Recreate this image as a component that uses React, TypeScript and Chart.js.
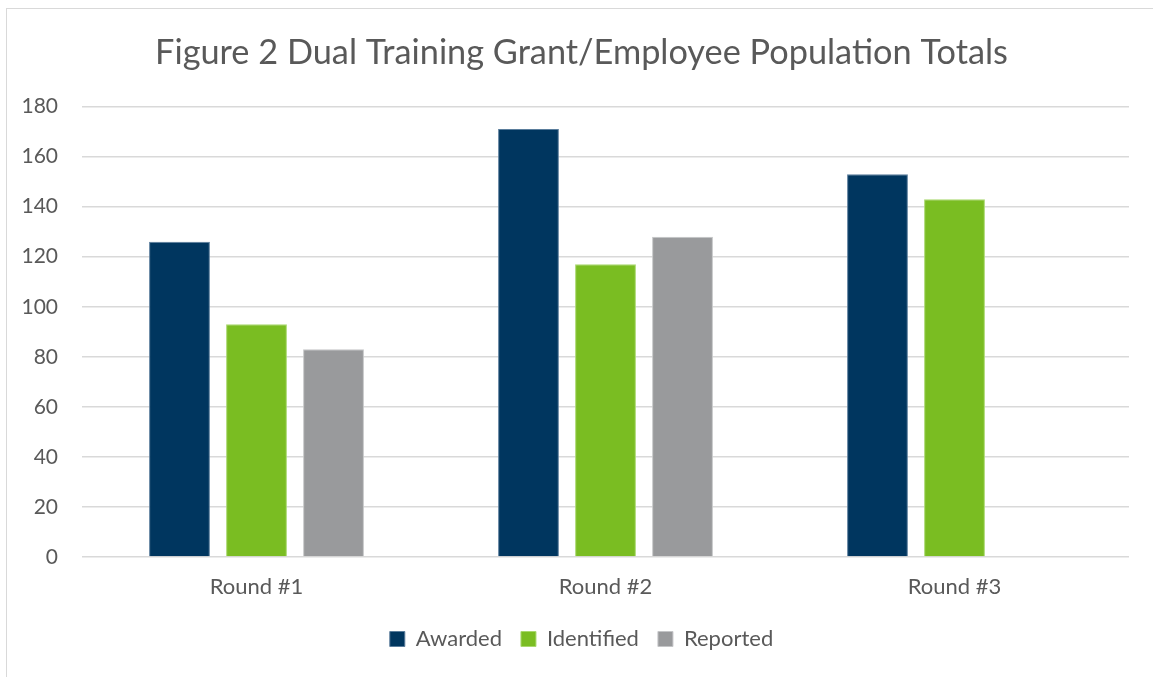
import React, { useEffect, useRef } from "react";
import { Chart, registerables } from "chart.js";

Chart.register(...registerables);

const categories = ["Round #1", "Round #2", "Round #3"];
const awarded = [126, 171, 153];
const identified = [93, 117, 143];
const reported = [83, 128, null];
const seriesNames = ["Awarded", "Identified", "Reported"];
const yTicks = { min: 0, max: 180, step: 20 };
const titleText = "Figure 2 Dual Training Grant/Employee Population Totals";

const FONT = "Lato, 'Open Sans', sans-serif";
const TEXT = "#595959";

export default function App() {
  const ref = useRef<HTMLCanvasElement | null>(null);
  useEffect(() => {
    if (!ref.current) return;
    const chart = new Chart(ref.current, {
      type: "bar",
      data: {
        labels: categories,
        datasets: [
          { label: seriesNames[0], data: awarded, backgroundColor: "#00365f", borderColor: "#5a7d9c", borderWidth: 1 },
          { label: seriesNames[1], data: identified, backgroundColor: "#7abd22", borderColor: "#a9d86e", borderWidth: 1 },
          { label: seriesNames[2], data: reported as any, backgroundColor: "#999a9c", borderColor: "#c4c5c7", borderWidth: 1 },
        ],
      },
      options: {
        responsive: false,
        animation: false,
        layout: { padding: { left: 10, right: 0, top: 0, bottom: 17 } },
        datasets: { bar: { categoryPercentage: 0.662, barPercentage: 0.79 } } as any,
        plugins: {
          title: {
            display: true,
            text: titleText,
            color: TEXT,
            font: { family: FONT, size: 34.3, weight: "normal" as any, lineHeight: 1.2 },
            padding: { top: 32.4, bottom: 33 },
          },
          legend: {
            position: "bottom",
            labels: {
              color: TEXT,
              font: { family: FONT, size: 22 },
              boxWidth: 15,
              boxHeight: 15,
              padding: 19,
            },
          },
          tooltip: { enabled: false },
        },
        scales: {
          x: {
            grid: { display: false },
            border: { display: false },
            ticks: { color: TEXT, font: { family: FONT, size: 22 }, padding: 8.8 },
          },
          y: {
            min: yTicks.min,
            max: yTicks.max,
            grid: { color: "#d9d9d9", lineWidth: 1.5, drawTicks: false },
            border: { display: false },
            ticks: { stepSize: yTicks.step, color: TEXT, font: { family: FONT, size: 21 }, padding: 24 },
            afterFit: (s: any) => { s.width = 72; },
          },
          yRight: {
            position: "right",
            display: true,
            min: yTicks.min,
            max: yTicks.max,
            grid: { display: false, drawTicks: false },
            border: { display: false },
            ticks: { display: false },
            afterFit: (s: any) => { s.width = 24; },
          },
        },
      },
    });
    return () => chart.destroy();
  }, []);
  return (
    <div style={{ position: "fixed", left: 0, top: 0, width: 1153, height: 677, overflow: "hidden", background: "#fff" }}>
      <div style={{ position: "absolute", left: 6, top: 8, width: 1200, height: 700, border: "1px solid #d9d9d9", boxSizing: "border-box" }} />
      <canvas ref={ref} width={1153} height={677} style={{ position: "absolute", left: 0, top: 0 }} />
    </div>
  );
}
